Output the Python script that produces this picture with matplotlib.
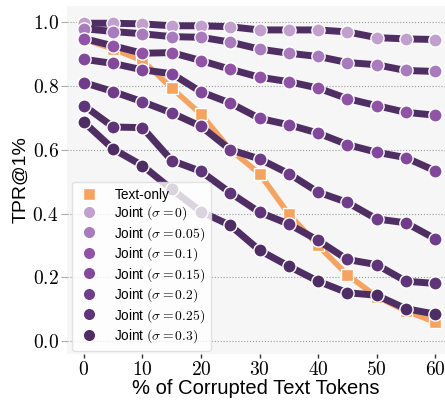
import matplotlib
matplotlib.use("Agg")
import matplotlib.pyplot as plt
from matplotlib.lines import Line2D

plt.rcParams['mathtext.fontset'] = 'cm'
plt.rcParams['font.family'] = ['Liberation Sans', 'DejaVu Sans']

x = [0, 5, 10, 15, 20, 25, 30, 35, 40, 45, 50, 55, 60]
text_only = [0.946, 0.915, 0.879, 0.793, 0.711, 0.600, 0.525, 0.398, 0.300, 0.208, 0.140, 0.095, 0.060]
sigmas = ['0', '0.05', '0.1', '0.15', '0.2', '0.25', '0.3']
joint = [
    [0.996, 0.996, 0.994, 0.988, 0.988, 0.985, 0.975, 0.975, 0.975, 0.969, 0.951, 0.947, 0.945],
    [0.979, 0.970, 0.963, 0.954, 0.952, 0.937, 0.915, 0.902, 0.892, 0.873, 0.866, 0.848, 0.845],
    [0.948, 0.925, 0.902, 0.904, 0.879, 0.852, 0.827, 0.813, 0.793, 0.760, 0.738, 0.717, 0.708],
    [0.883, 0.870, 0.850, 0.838, 0.781, 0.746, 0.698, 0.678, 0.652, 0.616, 0.592, 0.575, 0.534],
    [0.810, 0.782, 0.750, 0.715, 0.673, 0.600, 0.571, 0.525, 0.467, 0.435, 0.383, 0.371, 0.321],
    [0.738, 0.671, 0.669, 0.566, 0.532, 0.465, 0.404, 0.367, 0.316, 0.256, 0.240, 0.188, 0.181],
    [0.686, 0.602, 0.550, 0.476, 0.406, 0.363, 0.285, 0.235, 0.188, 0.152, 0.144, 0.102, 0.085],
]
marker_colors = ['#c1a0cd', '#a87bbd', '#9053a6', '#82489b', '#6f3d8a', '#5f3479', '#4e2d65']
line_color = '#4f2f63'
orange = '#f4a460'

xticks = [0, 10, 20, 30, 40, 50, 60]
yticks = [0.0, 0.2, 0.4, 0.6, 0.8, 1.0]

fig = plt.figure(figsize=(4.45, 4.0), dpi=100)
ax = fig.add_axes([67/445, 46/400, 378/445, 348/400])
ax.set_facecolor('#f6f6f6')
for s in ax.spines.values():
    s.set_visible(False)

ax.plot(x, text_only, color=orange, lw=4, marker='s', markersize=9,
        markerfacecolor=orange, markeredgecolor='white', markeredgewidth=1, zorder=2)
for vals, mc in zip(joint, marker_colors):
    ax.plot(x, vals, color=line_color, lw=5, marker='o', markersize=9.5,
            markerfacecolor=mc, markeredgecolor='white', markeredgewidth=1, zorder=3)

ax.set_xlim(-2.9, 61.7)
ax.set_ylim(-0.04, 1.05)
ax.set_xticks(xticks)
ax.set_xticklabels([f'${t}$' for t in xticks], fontsize=14)
ax.set_yticks(yticks)
ax.set_yticklabels([f'${t:.1f}$' for t in yticks], fontsize=14)
ax.tick_params(axis='x', length=3, width=1, color='#333333', pad=2)
ax.tick_params(axis='y', length=4, width=0.8, color='#aaaaaa', pad=2)
ax.grid(axis='y', linestyle=':', color='#999999', lw=0.8)
ax.set_axisbelow(True)

ax.set_xlabel('% of Corrupted Text Tokens', fontsize=14.5, labelpad=0)
ax.set_ylabel('TPR@1%', fontsize=14, labelpad=2)

handles = [Line2D([], [], ls='none', marker='s', markersize=9, markerfacecolor=orange,
                  markeredgecolor='white')]
labels = ['Text-only']
for s, mc in zip(sigmas, marker_colors):
    handles.append(Line2D([], [], ls='none', marker='o', markersize=9,
                          markerfacecolor=mc, markeredgecolor='white'))
    labels.append(r'Joint $(\sigma = ' + s + ')$')
leg = ax.legend(handles, labels, loc='lower left', bbox_to_anchor=(0.014, 0.01),
                borderaxespad=0, fontsize=9.8, labelspacing=0.2, handletextpad=1.1,
                borderpad=0.4, handlelength=1.6,
                frameon=True, framealpha=0.8, edgecolor='#dddddd', fancybox=True)
leg.get_frame().set_facecolor('white')
leg.set_zorder(5)

fig.savefig('out.png', dpi=100)
